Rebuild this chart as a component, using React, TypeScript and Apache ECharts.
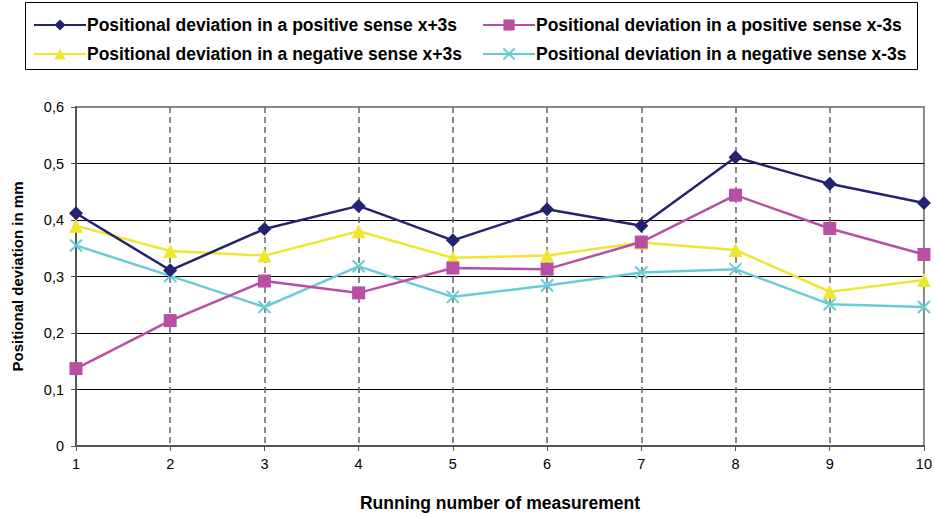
import React, { useEffect, useRef } from "react";
import * as echarts from "echarts";

const categories = ["1", "2", "3", "4", "5", "6", "7", "8", "9", "10"];
const yTicks = [0, 0.1, 0.2, 0.3, 0.4, 0.5, 0.6];

const seriesNames = [
  "Positional deviation in a positive sense x+3s",
  "Positional deviation in a positive sense x-3s",
  "Positional deviation in a negative sense x+3s",
  "Positional deviation in a negative sense x-3s",
];

const posPlus = [0.412, 0.311, 0.384, 0.425, 0.364, 0.419, 0.39, 0.511, 0.464, 0.43];
const posMinus = [0.137, 0.222, 0.292, 0.271, 0.315, 0.313, 0.361, 0.444, 0.385, 0.339];
const negPlus = [0.39, 0.345, 0.337, 0.38, 0.333, 0.337, 0.36, 0.347, 0.273, 0.294];
const negMinus = [0.355, 0.301, 0.246, 0.318, 0.264, 0.284, 0.307, 0.313, 0.251, 0.246];

const colors = ["#23236f", "#b94fa2", "#efe634", "#68cbd8"];
const CROSS = "path://M0,0L10,10M10,0L0,10";

export default function App() {
  const ref = useRef<HTMLDivElement>(null);
  useEffect(() => {
    if (!ref.current) return;
    const chart = echarts.init(ref.current, undefined, { renderer: "svg" });
    const font = "Liberation Sans, Arial, sans-serif";
    const mk = (i: number, data: number[], symbol: string, size: number, extra: any = {}) => ({
      name: seriesNames[i],
      type: "line",
      data,
      symbol,
      symbolSize: size,
      lineStyle: { color: colors[i], width: 2.5 },
      itemStyle: { color: colors[i], ...extra },
      z: 10 - i,
    });
    const legendCommon = {
      orient: "vertical",
      top: 11,
      itemGap: 11,
      itemWidth: 52,
      itemHeight: 14,
      textStyle: { fontFamily: font, fontWeight: "bold", fontSize: 17.5, color: "#000", padding: [0, 0, 0, -4] },
    };
    chart.setOption({
      animation: false,
      backgroundColor: "#fff",
      graphic: [
        {
          type: "rect",
          shape: { x: 25.5, y: 2.5, width: 892, height: 67 },
          style: { stroke: "#000", fill: "none", lineWidth: 1 },
        },
      ],
      legend: [
        { ...legendCommon, left: 28, data: [seriesNames[0], seriesNames[2]] },
        { ...legendCommon, left: 477, data: [seriesNames[1], seriesNames[3]] },
      ],
      grid: {
        left: 76,
        right: 9,
        top: 107,
        bottom: 68,
        show: true,
        borderColor: "#8a8a8a",
        borderWidth: 2,
        backgroundColor: "#fff",
      },
      xAxis: {
        type: "category",
        data: categories,
        boundaryGap: false,
        name: "Running number of measurement",
        nameLocation: "middle",
        nameGap: 48,
        nameTextStyle: { fontFamily: font, fontWeight: "bold", fontSize: 17.5, color: "#000" },
        axisLine: { lineStyle: { color: "#555", width: 2 } },
        axisTick: { show: true, length: 5, lineStyle: { color: "#555" } },
        axisLabel: { fontFamily: font, fontSize: 14.5, color: "#000", margin: 10 },
        splitLine: {
          show: true,
          lineStyle: {
            color: ["#666", "#666", "#666", "#666", "#666", "#666", "#666", "#666", "#666", "transparent"],
            type: [6, 4],
            width: 1.5,
          },
        },
      },
      yAxis: {
        type: "value",
        min: 0,
        max: 0.6,
        interval: 0.1,
        name: "Positional deviation in mm",
        nameLocation: "middle",
        nameGap: 51,
        nameTextStyle: { fontFamily: font, fontWeight: "bold", fontSize: 15, color: "#000" },
        axisLine: { show: true, lineStyle: { color: "#555", width: 2 } },
        axisTick: { show: true, length: 5, lineStyle: { color: "#555" } },
        axisLabel: {
          fontFamily: font,
          fontSize: 14.5,
          color: "#000",
          margin: 12,
          formatter: (v: number) => {
            const t = yTicks.find((x) => Math.abs(x - v) < 1e-9);
            return (t === 0 ? "0" : (t ?? v).toFixed(1)).replace(".", ",");
          },
        },
        splitLine: {
          show: true,
          lineStyle: { color: ["#000", "#000", "#000", "#000", "#000", "#000", "#8a8a8a"], width: 1 },
        },
      },
      series: [
        mk(0, posPlus, "diamond", 14),
        mk(1, posMinus, "rect", 13),
        mk(2, negPlus, "triangle", 14),
        mk(3, negMinus, CROSS, 12, { borderColor: colors[3], borderWidth: 2 }),
      ],
    });
    return () => chart.dispose();
  }, []);
  return <div ref={ref} style={{ width: 935, height: 517, position: "absolute", left: 0, top: 0 }} />;
}
